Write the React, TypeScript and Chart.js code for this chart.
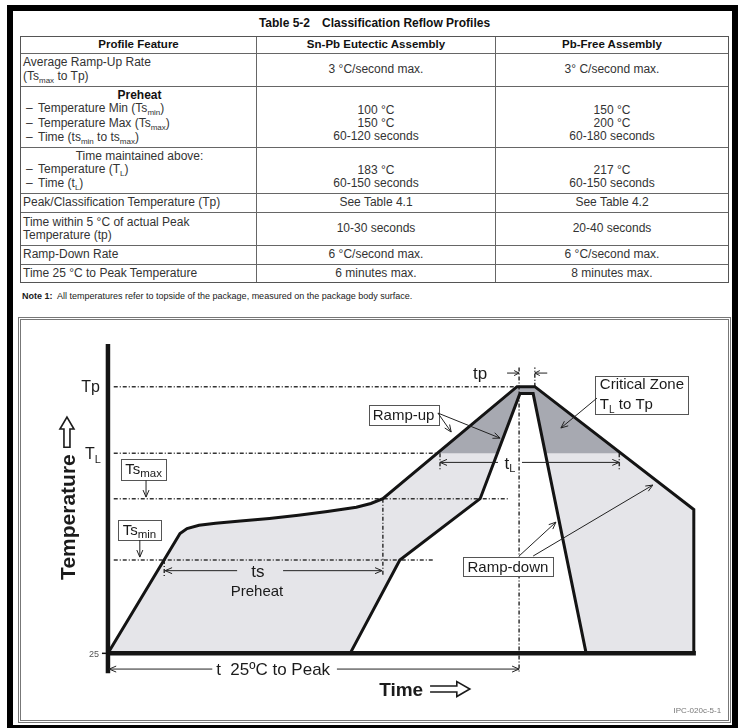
import React, { useEffect, useRef } from "react";
import { Chart, registerables } from "chart.js";

Chart.register(...registerables);

/* ---------------- table content ---------------- */
const TABLE_TITLE_NUMBER = "Table 5-2";
const TABLE_TITLE = "Classification Reflow Profiles";
const TABLE_HEADERS = ["Profile Feature", "Sn-Pb Eutectic Assembly", "Pb-Free Assembly"];
const FEATURE_HEADINGS = ["", "**Preheat", "Time maintained above:", "", "", "", ""];
const FEATURE_LINES = [
  ["Average Ramp-Up Rate", "(Ts_{max} to Tp)"],
  ["– Temperature Min (Ts_{min})", "– Temperature Max (Ts_{max})", "– Time (ts_{min} to ts_{max})"],
  ["– Temperature (T_{L})", "– Time (t_{L})"],
  ["Peak/Classification Temperature (Tp)"],
  ["Time within 5 °C of actual Peak", "Temperature (tp)"],
  ["Ramp-Down Rate"],
  ["Time 25 °C to Peak Temperature"],
];
const SNPB_VALUES = [
  ["3 °C/second max."],
  ["100 °C", "150 °C", "60-120 seconds"],
  ["183 °C", "60-150 seconds"],
  ["See Table 4.1"],
  ["10-30 seconds"],
  ["6 °C/second max."],
  ["6 minutes max."],
];
const PBFREE_VALUES = [
  ["3° C/second max."],
  ["150 °C", "200 °C", "60-180 seconds"],
  ["217 °C", "60-150 seconds"],
  ["See Table 4.2"],
  ["20-40 seconds"],
  ["6 °C/second max."],
  ["8 minutes max."],
];
const NOTE_LABEL = "Note 1:";
const NOTE_TEXT = "All temperatures refer to topside of the package, measured on the package body surface.";

/* ---------------- diagram values (schematic units: 25 °C = 0, Tp = 100) ---------------- */
const LEVEL_25 = 0;
const LEVEL_TSMIN = 35;
const LEVEL_TSMAX = 58;
const LEVEL_TL = 75;
const LEVEL_TP = 100;
const LEVEL_TP_INNER = 97.4;

const OUTER_TIME = [0, 17.4, 19.1, 22.0, 26.0, 32.0, 39.0, 46.0, 53.0, 60.0, 63.5, 66.4, 98.8, 103.1, 141.5, 141.5];
const OUTER_TEMP = [LEVEL_25, 44.9, 46.8, 48.0, 48.8, 49.6, 50.6, 51.8, 53.2, 54.8, 56.2, LEVEL_TSMAX, LEVEL_TP, LEVEL_TP, 53.9, LEVEL_25];
const INNER_TIME = [58.5, 70.5, 89.9, 99.5, 102.7, 115.5];
const INNER_TEMP = [LEVEL_25, LEVEL_TSMIN, LEVEL_TSMAX, LEVEL_TP_INNER, LEVEL_TP_INNER, LEVEL_25];

const REF_LINE_LEVELS = [LEVEL_TP, LEVEL_TL, LEVEL_TSMAX, LEVEL_TSMIN];
const REF_LINE_START = 1.4;
const REF_LINE_END = [99.3, 79.3, 96.9, 78.7];

const GUIDE_TIME = [99.3, 66.4, 80.2, 123.5, 13.6, 103.1];
const GUIDE_FROM = [107.2, LEVEL_TSMAX, LEVEL_TL, LEVEL_TL, LEVEL_TSMIN, LEVEL_TP];
const GUIDE_TO = [-7.5, 29, 68.6, 68.6, 28.5, 107.2];

const TIME_RANGE = [-21, 150];
const TEMP_RANGE = [-25, 125];
const AXIS_TEMP_SPAN = [-7.5, 116];
const BASELINE_END = 142;

const LABEL_TP = "Tp";
const LABEL_25 = "25";
const LABEL_Y = "Temperature";
const LABEL_X = "Time";
const LABEL_T25 = "t  25ºC to Peak";
const LABEL_TS = "ts";
const LABEL_PREHEAT = "Preheat";
const LABEL_RAMPUP = "Ramp-up";
const LABEL_RAMPDOWN = "Ramp-down";
const LABEL_CRITICAL = "Critical Zone";
const LABEL_FIG = "IPC-020c-5-1";

/* ---------------- drawing helpers ---------------- */
const FONT = '"Liberation Sans", Arial, Helvetica, sans-serif';
const INK = "#1b1b1b";

function setFont(ctx: any, size: number, weight = "normal") {
  ctx.font = `${weight} ${size}px ${FONT}`;
}
function drawText(ctx: any, s: string, x: number, yc: number, size: number, align = "center", weight = "normal", color = INK) {
  setFont(ctx, size, weight);
  ctx.fillStyle = color;
  ctx.textAlign = align;
  ctx.textBaseline = "alphabetic";
  ctx.fillText(s, x, yc + size * 0.36);
}
function drawSubText(ctx: any, main: string, sub: string, tail: string, x: number, yc: number, size: number, subSize: number, align = "center") {
  setFont(ctx, size);
  const w1 = ctx.measureText(main).width;
  const w3 = tail ? ctx.measureText(tail).width : 0;
  setFont(ctx, subSize);
  const w2 = ctx.measureText(sub).width;
  const total = w1 + w2 + w3;
  const x0 = align === "center" ? x - total / 2 : align === "right" ? x - total : x;
  const base = yc + size * 0.36;
  ctx.fillStyle = INK;
  ctx.textAlign = "left";
  ctx.textBaseline = "alphabetic";
  setFont(ctx, size);
  ctx.fillText(main, x0, base);
  setFont(ctx, subSize);
  ctx.fillText(sub, x0 + w1, base + size * 0.22);
  if (tail) {
    setFont(ctx, size);
    ctx.fillText(tail, x0 + w1 + w2, base);
  }
}
function seg(ctx: any, x1: number, y1: number, x2: number, y2: number, w = 1, color = "#222") {
  ctx.beginPath();
  ctx.moveTo(x1, y1);
  ctx.lineTo(x2, y2);
  ctx.lineWidth = w;
  ctx.strokeStyle = color;
  ctx.setLineDash([]);
  ctx.stroke();
}
function head(ctx: any, fx: number, fy: number, tx: number, ty: number, len = 7, half = 3) {
  const a = Math.atan2(ty - fy, tx - fx);
  const bx = tx - len * Math.cos(a);
  const by = ty - len * Math.sin(a);
  const nx = -Math.sin(a) * half;
  const ny = Math.cos(a) * half;
  ctx.beginPath();
  ctx.moveTo(bx + nx, by + ny);
  ctx.lineTo(tx, ty);
  ctx.lineTo(bx - nx, by - ny);
  ctx.lineWidth = 1;
  ctx.strokeStyle = "#222";
  ctx.stroke();
}
function arrow(ctx: any, x1: number, y1: number, x2: number, y2: number) {
  seg(ctx, x1, y1, x2, y2);
  head(ctx, x1, y1, x2, y2);
}
function box(ctx: any, cx: number, cy: number, w: number, h: number) {
  const l = Math.round(cx - w / 2) + 0.5;
  const t = Math.round(cy - h / 2) + 0.5;
  ctx.fillStyle = "#fff";
  ctx.fillRect(l, t, w, h);
  ctx.lineWidth = 1;
  ctx.strokeStyle = "#555";
  ctx.strokeRect(l, t, w, h);
}
function hollowRight(ctx: any, x0: number, x1: number, yc: number, shaft: number, headH: number, headL: number) {
  ctx.beginPath();
  ctx.moveTo(x0, yc - shaft / 2);
  ctx.lineTo(x1 - headL, yc - shaft / 2);
  ctx.lineTo(x1 - headL, yc - headH / 2);
  ctx.lineTo(x1, yc);
  ctx.lineTo(x1 - headL, yc + headH / 2);
  ctx.lineTo(x1 - headL, yc + shaft / 2);
  ctx.lineTo(x0, yc + shaft / 2);
  ctx.lineWidth = 1.6;
  ctx.strokeStyle = INK;
  ctx.stroke();
}
function hollowUp(ctx: any, xc: number, yTip: number, yBot: number, shaft: number, headW: number, headL: number) {
  ctx.beginPath();
  ctx.moveTo(xc - shaft / 2, yBot);
  ctx.lineTo(xc - shaft / 2, yTip + headL);
  ctx.lineTo(xc - headW / 2, yTip + headL);
  ctx.lineTo(xc, yTip);
  ctx.lineTo(xc + headW / 2, yTip + headL);
  ctx.lineTo(xc + shaft / 2, yTip + headL);
  ctx.lineTo(xc + shaft / 2, yBot);
  ctx.closePath();
  ctx.lineWidth = 1.6;
  ctx.strokeStyle = INK;
  ctx.stroke();
}

const annotationPlugin = {
  id: "reflowAnnotations",
  beforeDatasetsDraw(chart: any) {
    const ctx = chart.ctx;
    const X = (v: number) => chart.scales.x.getPixelForValue(v);
    const Y = (v: number) => chart.scales.y.getPixelForValue(v);
    const outer = OUTER_TIME.map((t, i) => [X(t), Y(OUTER_TEMP[i])]);
    const inner = INNER_TIME.map((t, i) => [X(t), Y(INNER_TEMP[i])]).reverse();
    const poly = [...outer, ...inner];
    const trace = () => {
      ctx.beginPath();
      poly.forEach(([a, b], i) => (i ? ctx.lineTo(a, b) : ctx.moveTo(a, b)));
      ctx.closePath();
    };
    ctx.save();
    trace();
    ctx.fillStyle = "#e5e5e9";
    ctx.fill();
    ctx.beginPath();
    ctx.rect(0, 0, chart.width, Y(LEVEL_TL));
    ctx.clip();
    trace();
    ctx.fillStyle = "#a7a9b1";
    ctx.fill();
    ctx.restore();
  },
  afterDatasetsDraw(chart: any) {
    const ctx = chart.ctx;
    const X = (v: number) => chart.scales.x.getPixelForValue(v);
    const Y = (v: number) => chart.scales.y.getPixelForValue(v);
    ctx.save();

    // level labels on the temperature axis
    drawText(ctx, LABEL_TP, X(0) - 8, Y(LEVEL_TP), 16, "right");
    drawSubText(ctx, "T", "L", "", X(0) - 23, Y(LEVEL_TL), 16, 11, "left");
    drawText(ctx, LABEL_25, X(0) - 9, Y(LEVEL_25), 9, "right", "normal", "#555");
    seg(ctx, X(0) - 6, Y(LEVEL_25), X(0), Y(LEVEL_25), 1.5, "#111");

    // axis titles
    ctx.save();
    ctx.translate(X(-9.9), Y(51.1));
    ctx.rotate(-Math.PI / 2);
    drawText(ctx, LABEL_Y, 0, 0, 21, "center", "bold");
    ctx.restore();
    hollowUp(ctx, X(-9.9), Y(88.6), Y(77.3), 6, 14, 12);
    drawText(ctx, LABEL_X, X(65.5), Y(-13.4), 19, "left", "bold");
    hollowRight(ctx, X(77.8), X(87.4), Y(-13.4), 6, 15, 13);

    // t 25 to peak
    const yT = Y(-5.9);
    seg(ctx, X(0.3), yT, X(25.2), yT);
    head(ctx, X(25.2), yT, X(0.3), yT);
    seg(ctx, X(55.3), yT, X(99.3), yT);
    head(ctx, X(55.3), yT, X(99.3), yT);
    drawText(ctx, LABEL_T25, X(39.9), yT, 17);

    // ts preheat
    const yS = Y(31);
    seg(ctx, X(13.8), yS, X(31.2), yS);
    head(ctx, X(31.2), yS, X(13.8), yS);
    seg(ctx, X(42.3), yS, X(66.2), yS);
    head(ctx, X(42.3), yS, X(66.2), yS);
    drawText(ctx, LABEL_TS, X(36.2), yS, 17);
    drawText(ctx, LABEL_PREHEAT, X(36), Y(23.7), 15);

    // tL
    const yL = Y(71.6);
    seg(ctx, X(80.2), yL, X(94.2), yL);
    head(ctx, X(94.2), yL, X(80.2), yL);
    seg(ctx, X(100), yL, X(123.5), yL);
    head(ctx, X(100), yL, X(123.5), yL);
    drawSubText(ctx, "t", "L", "", X(97.1), yL, 17, 11, "center");

    // tp
    const yP = Y(105.1);
    seg(ctx, X(96.4), yP, X(99.3), yP);
    head(ctx, X(96.4), yP, X(99.3), yP, 5, 2.5);
    seg(ctx, X(106.1), yP, X(103.1), yP);
    head(ctx, X(106.1), yP, X(103.1), yP, 5, 2.5);
    drawText(ctx, "tp", X(89.9), yP, 17);

    // Ts max / min callouts
    box(ctx, X(8.6), Y(68.9), 45, 21);
    drawSubText(ctx, "Ts", "max", "", X(8.6), Y(68.9) - 1, 15, 11.5, "center");
    arrow(ctx, X(9.2), Y(64.9), X(9.2), Y(58.6));
    box(ctx, X(7.6), Y(46.2), 43, 20);
    drawSubText(ctx, "Ts", "min", "", X(7.6), Y(46.2) - 1, 15, 11.5, "center");
    arrow(ctx, X(7.7), Y(42.5), X(7.7), Y(36.1));

    // Ramp-up
    box(ctx, X(71.4), Y(89.5), 70, 20);
    drawText(ctx, LABEL_RAMPUP, X(71.4), Y(89.5), 15);
    arrow(ctx, X(79.7), Y(90.1), X(82.9), Y(83));
    arrow(ctx, X(79.7), Y(90.1), X(94.7), Y(80.7));

    // Critical zone
    box(ctx, X(128.9), Y(96.9), 93, 38);
    drawText(ctx, LABEL_CRITICAL, X(118.8), Y(101), 15, "left");
    drawSubText(ctx, "T", "L", " to Tp", X(118.8), Y(93.5), 15, 10, "left");
    arrow(ctx, X(118.1), Y(95.7), X(109.4), Y(84.5));

    // Ramp-down
    box(ctx, X(96.6), Y(32.5), 90, 19);
    drawText(ctx, LABEL_RAMPDOWN, X(96.6), Y(32.5), 15);
    arrow(ctx, X(99.3), Y(36.5), X(108.2), Y(49.2));
    arrow(ctx, X(102.7), Y(36.5), X(131.6), Y(63.1));

    drawText(ctx, LABEL_FIG, X(148.1), Y(-21.3), 8, "right", "normal", "#777");
    ctx.restore();
  },
};

const pts = (xs: number[], ys: number[]) => xs.map((x, i) => ({ x, y: ys[i] }));

function ReflowDiagram() {
  const ref = useRef<HTMLCanvasElement>(null);
  useEffect(() => {
    const line = (data: any[], extra: any) => ({
      data,
      showLine: true,
      pointRadius: 0,
      pointHoverRadius: 0,
      fill: false,
      tension: 0,
      borderColor: "#141414",
      borderJoinStyle: "miter",
      borderCapStyle: "butt",
      ...extra,
    });
    const datasets: any[] = [
      line([{ x: 0, y: AXIS_TEMP_SPAN[0] }, { x: 0, y: AXIS_TEMP_SPAN[1] }], { borderWidth: 4.5, order: 0 }),
      line([{ x: 0, y: LEVEL_25 }, { x: BASELINE_END, y: LEVEL_25 }], { borderWidth: 4.5, order: 0 }),
      line(pts(OUTER_TIME, OUTER_TEMP), { borderWidth: 3, order: 1 }),
      line(pts(INNER_TIME, INNER_TEMP), { borderWidth: 3, order: 1 }),
      ...REF_LINE_LEVELS.map((lvl, i) =>
        line([{ x: REF_LINE_START, y: lvl }, { x: REF_LINE_END[i], y: lvl }], {
          borderWidth: 1.5,
          borderColor: "#333",
          borderDash: [4, 2, 1, 2],
          order: 2,
        })
      ),
      ...GUIDE_TIME.map((t, i) =>
        line([{ x: t, y: GUIDE_FROM[i] }, { x: t, y: GUIDE_TO[i] }], {
          borderWidth: 1.5,
          borderColor: "#333",
          borderDash: [4, 2, 1, 2],
          order: 2,
        })
      ),
    ];
    const chart = new Chart(ref.current as HTMLCanvasElement, {
      type: "scatter",
      data: { datasets },
      options: {
        responsive: false,
        maintainAspectRatio: false,
        devicePixelRatio: 1,
        animation: false,
        events: [],
        layout: { padding: 0 },
        scales: {
          x: { type: "linear", display: false, min: TIME_RANGE[0], max: TIME_RANGE[1] },
          y: { type: "linear", display: false, min: TEMP_RANGE[0], max: TEMP_RANGE[1] },
        },
        plugins: { legend: { display: false }, tooltip: { enabled: false }, title: { display: false } },
      } as any,
      plugins: [annotationPlugin as any],
    });
    return () => chart.destroy();
  }, []);
  return (
    <canvas
      ref={ref}
      width={708}
      height={400}
      style={{ position: "absolute", left: 21, top: 320, width: 708, height: 400 }}
    />
  );
}

/* ---------------- table ---------------- */
const FONT_CSS = '"Liberation Sans", Arial, Helvetica, sans-serif';

function Rich({ s }: { s: string }) {
  const parts = s.split(/_\{([^}]*)\}/);
  return (
    <>
      {parts.map((p, i) =>
        i % 2 ? (
          <span key={i} style={{ fontSize: 8, position: "relative", top: 3 }}>
            {p}
          </span>
        ) : (
          <span key={i}>{p}</span>
        )
      )}
    </>
  );
}

function Line({ s }: { s: string }) {
  if (s === "") return <div>&nbsp;</div>;
  if (s.startsWith("– ")) {
    return (
      <div style={{ paddingLeft: 3, whiteSpace: "nowrap" }}>
        <span style={{ display: "inline-block", width: 12 }}>–</span>
        <Rich s={s.slice(2)} />
      </div>
    );
  }
  return (
    <div style={{ whiteSpace: "nowrap" }}>
      <Rich s={s} />
    </div>
  );
}

function ReflowTable() {
  const rowHeights = [16, 33, 61, 46, 19, 33, 19, 18];
  const colWidths = [235, 239, 233];
  const cell = (j: number): React.CSSProperties => ({
    width: colWidths[j],
    boxSizing: "border-box",
    borderLeft: j ? "1px solid #666" : "none",
    display: "flex",
    flexDirection: "column",
    justifyContent: "center",
    textAlign: j ? "center" : "left",
    paddingLeft: j ? 0 : 2,
    lineHeight: "13.3px",
    overflow: "hidden",
  });
  const row = (i: number): React.CSSProperties => ({
    display: "flex",
    height: rowHeights[i],
    boxSizing: "border-box",
    borderTop: i ? "1px solid #666" : "none",
  });
  return (
    <div
      style={{
        position: "absolute",
        left: 20,
        top: 36,
        width: 709,
        border: "1px solid #555",
        boxSizing: "border-box",
        fontFamily: FONT_CSS,
        fontSize: 12,
        color: "#333",
      }}
    >
      <div style={row(0)}>
        {TABLE_HEADERS.map((h, j) => (
          <div key={j} style={{ ...cell(j), textAlign: "center", paddingLeft: 0, fontWeight: "bold", fontSize: 11.5, color: "#111" }}>
            {h}
          </div>
        ))}
      </div>
      {FEATURE_LINES.map((lines, i) => {
        const headingRaw = FEATURE_HEADINGS[i];
        const bold = headingRaw.startsWith("**");
        const heading = bold ? headingRaw.slice(2) : headingRaw;
        const pad = heading ? [""] : [];
        return (
          <div key={i} style={row(i + 1)}>
            <div style={cell(0)}>
              {heading ? (
                <div style={{ textAlign: "center", fontWeight: bold ? "bold" : "normal", color: bold ? "#111" : undefined }}>{heading}</div>
              ) : null}
              {lines.map((s, k) => (
                <Line key={k} s={s} />
              ))}
            </div>
            <div style={cell(1)}>
              {[...pad, ...SNPB_VALUES[i]].map((s, k) => (
                <Line key={k} s={s} />
              ))}
            </div>
            <div style={cell(2)}>
              {[...pad, ...PBFREE_VALUES[i]].map((s, k) => (
                <Line key={k} s={s} />
              ))}
            </div>
          </div>
        );
      })}
    </div>
  );
}

export default function App() {
  return (
    <div
      style={{
        position: "absolute",
        left: 0,
        top: 0,
        width: 743,
        height: 728,
        background: "#fff",
        overflow: "hidden",
        fontFamily: FONT_CSS,
      }}
    >
      <div
        style={{
          position: "absolute",
          left: 7,
          top: 5,
          width: 731,
          height: 726,
          border: "6px solid #000",
          boxSizing: "border-box",
        }}
      />
      <div
        style={{
          position: "absolute",
          left: 20,
          top: 16,
          width: 709,
          textAlign: "center",
          fontWeight: "bold",
          fontSize: 12,
          lineHeight: "14px",
          color: "#111",
          whiteSpace: "pre",
        }}
      >
        {TABLE_TITLE_NUMBER}
        <span style={{ display: "inline-block", width: 12 }} />
        {TABLE_TITLE}
      </div>
      <ReflowTable />
      <div
        style={{
          position: "absolute",
          left: 22,
          top: 290,
          fontSize: 9,
          lineHeight: "12px",
          color: "#1a1a1a",
          whiteSpace: "pre",
        }}
      >
        <b>{NOTE_LABEL}</b>
        {"  " + NOTE_TEXT}
      </div>
      <div
        style={{
          position: "absolute",
          left: 18,
          top: 317,
          width: 713,
          height: 406,
          border: "3px double #777",
          boxSizing: "border-box",
        }}
      />
      <ReflowDiagram />
    </div>
  );
}
